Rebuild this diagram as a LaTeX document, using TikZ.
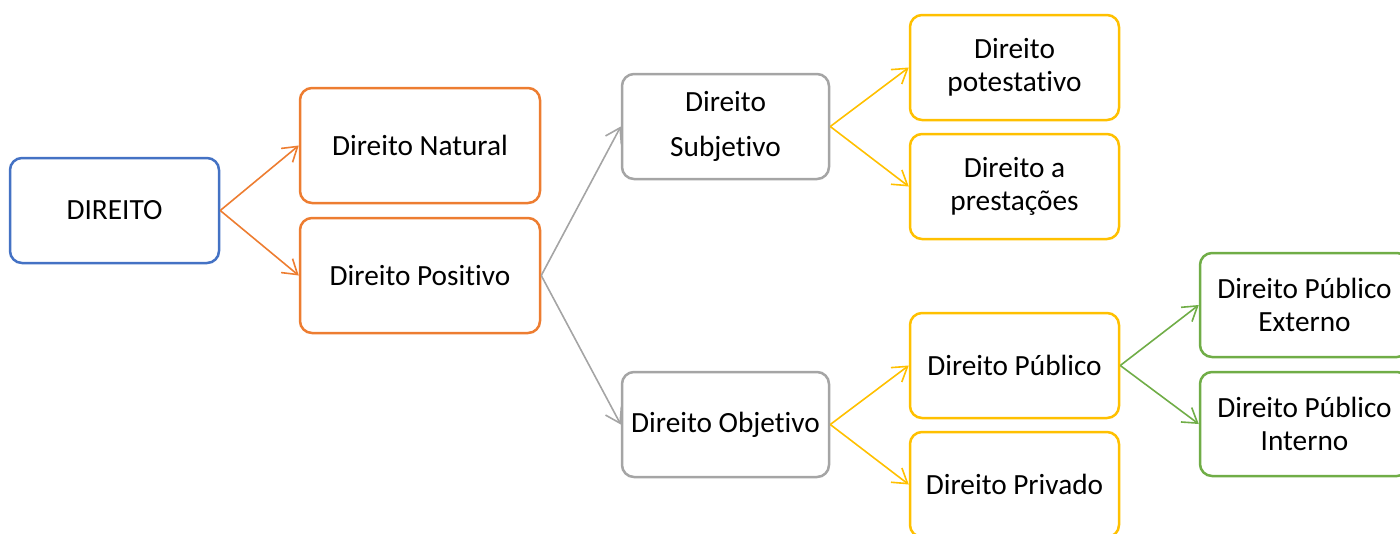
\documentclass[tikz,border=0pt]{standalone}
\usepackage{fontspec}
\setmainfont[Ligatures={NoCommon}]{Carlito}
\usetikzlibrary{arrows.meta}
\definecolor{cblue}{HTML}{4472C4}
\definecolor{corange}{HTML}{ED7D31}
\definecolor{cgray}{HTML}{A5A5A5}
\definecolor{cyellow}{HTML}{FFC000}
\definecolor{cgreen}{HTML}{70AD47}
\tikzset{
  box/.style={draw, line width=2.5pt, rounded corners=12pt, minimum width=#1, align=center,
    font=\fontsize{29.3}{33}\selectfont, inner sep=0pt},
  box/.default=209pt,
  conn/.style={line width=1.6pt, -{Straight Barb[length=14pt,width=18pt,line width=1.6pt]}},
}
\begin{document}
\begin{tikzpicture}[x=1pt,y=-1pt]
\useasboundingbox (0,0) rectangle (1400,533);
\node[box, draw=cblue, minimum height=105pt] (dir) at (114.5,210.5) {DIREITO};
\node[box=240pt, draw=corange, minimum height=115pt] (nat) at (420,145.5) {Direito Natural};
\node[box=240pt, draw=corange, minimum height=115pt] (pos) at (420,275.5) {Direito Positivo};
\node[box=207pt, draw=cgray, minimum height=105pt] (sub) at (725.5,126.5) {Direito\\[12pt]Subjetivo};
\node[box=207pt, draw=cgray, minimum height=105pt] (obj) at (725.5,424.5) {Direito Objetivo};
\node[box, draw=cyellow, minimum height=105pt] (pot) at (1014.5,67.5) {Direito\\potestativo};
\node[box, draw=cyellow, minimum height=105pt] (pre) at (1014.5,186.5) {Direito a\\prestações};
\node[box, draw=cyellow, minimum height=105pt] (pub) at (1014.5,365.5) {Direito Público};
\node[box, draw=cyellow, minimum height=105pt] (pri) at (1014.5,484.5) {Direito Privado};
\node[box, draw=cgreen, minimum height=104pt] (ext) at (1304.5,305) {Direito Público\\Externo};
\node[box, draw=cgreen, minimum height=104pt] (int) at (1304.5,424) {Direito Público\\Interno};
\draw[conn, corange] (dir.east) -- (nat.west);
\draw[conn, corange] (dir.east) -- (pos.west);
\draw[conn, cgray] (pos.east) -- (sub.west);
\draw[conn, cgray] (pos.east) -- (obj.west);
\draw[conn, cyellow] (sub.east) -- (pot.west);
\draw[conn, cyellow] (sub.east) -- (pre.west);
\draw[conn, cyellow] (obj.east) -- (pub.west);
\draw[conn, cyellow] (obj.east) -- (pri.west);
\draw[conn, cgreen] (pub.east) -- (ext.west);
\draw[conn, cgreen] (pub.east) -- (int.west);
\end{tikzpicture}
\end{document}
